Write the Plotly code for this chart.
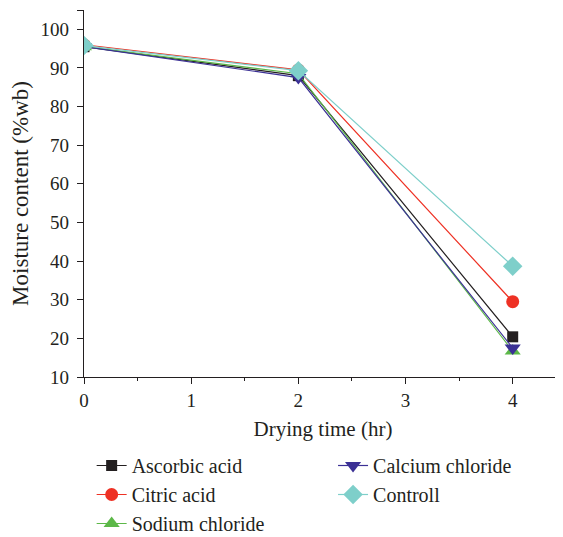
import plotly.graph_objects as go

drying_time = [0, 2, 4]
ascorbic_acid = [95.5, 88.0, 20.4]
citric_acid = [96.0, 89.5, 29.5]
sodium_chloride = [95.5, 88.5, 16.7]
calcium_chloride = [95.5, 87.5, 17.5]
controll = [95.8, 89.3, 38.7]

series = [
    ("Ascorbic acid", ascorbic_acid, "#231f20", "square", 11, "legend"),
    ("Citric acid", citric_acid, "#ee3124", "circle", 13, "legend"),
    ("Sodium chloride", sodium_chloride, "#5cb848", "triangle-up", 14, "legend"),
    ("Calcium chloride", calcium_chloride, "#3b3095", "triangle-down", 14, "legend2"),
    ("Controll", controll, "#7ecfca", "diamond", 15, "legend2"),
]

FONT = "Liberation Serif"

fig = go.Figure()
for name, vals, color, sym, size, lg in series:
    fig.add_trace(go.Scatter(
        x=drying_time, y=vals, name=name, mode="lines+markers",
        line=dict(color=color, width=1.2),
        marker=dict(symbol=sym, size=size, color=color, line=dict(width=0)),
        legend=lg,
    ))

# page body has an 8px margin, so the figure is 8px smaller and shifted
fig.update_layout(
    width=555, height=529,
    margin=dict(l=76, r=1, t=2, b=160, autoexpand=False),
    paper_bgcolor="white", plot_bgcolor="white",
    font=dict(family=FONT, size=19, color="#231f20"),
    showlegend=True,
    legend=dict(x=0.016, y=-0.188, xanchor="left", yanchor="top",
                font=dict(family=FONT, size=20, color="#231f20"),
                bgcolor="rgba(0,0,0,0)", tracegroupgap=0),
    legend2=dict(x=0.521, y=-0.188, xanchor="left", yanchor="top",
                 font=dict(family=FONT, size=20, color="#231f20"),
                 bgcolor="rgba(0,0,0,0)", tracegroupgap=0),
)

fig.update_xaxes(
    range=[0, 4.46], tickvals=[0, 1, 2, 3, 4], automargin=False,
    showline=True, linecolor="#231f20", linewidth=1.2,
    ticks="outside", ticklen=6, tickcolor="#231f20", tickwidth=1,
    minor=dict(tickvals=[0.5, 1.5, 2.5, 3.5], ticks="outside", ticklen=3, tickcolor="#231f20"),
    showgrid=False, zeroline=False,
    title=dict(text="Drying time (hr)", font=dict(family=FONT, size=21), standoff=11),
    tickfont=dict(family=FONT, size=19),
)
fig.update_yaxes(
    range=[10, 105], tickvals=[10, 20, 30, 40, 50, 60, 70, 80, 90, 100], automargin=False,
    showline=True, linecolor="#231f20", linewidth=1.2,
    ticks="outside", ticklen=6, tickcolor="#231f20", tickwidth=1,
    minor=dict(tickvals=[105], ticks="outside", ticklen=6, tickcolor="#231f20"),
    ticklabelstandoff=4,
    showgrid=False, zeroline=False,
    title=dict(text="Moisture content (%wb)", font=dict(family=FONT, size=23), standoff=6),
    tickfont=dict(family=FONT, size=19),
)

fig.write_html("out.html")
